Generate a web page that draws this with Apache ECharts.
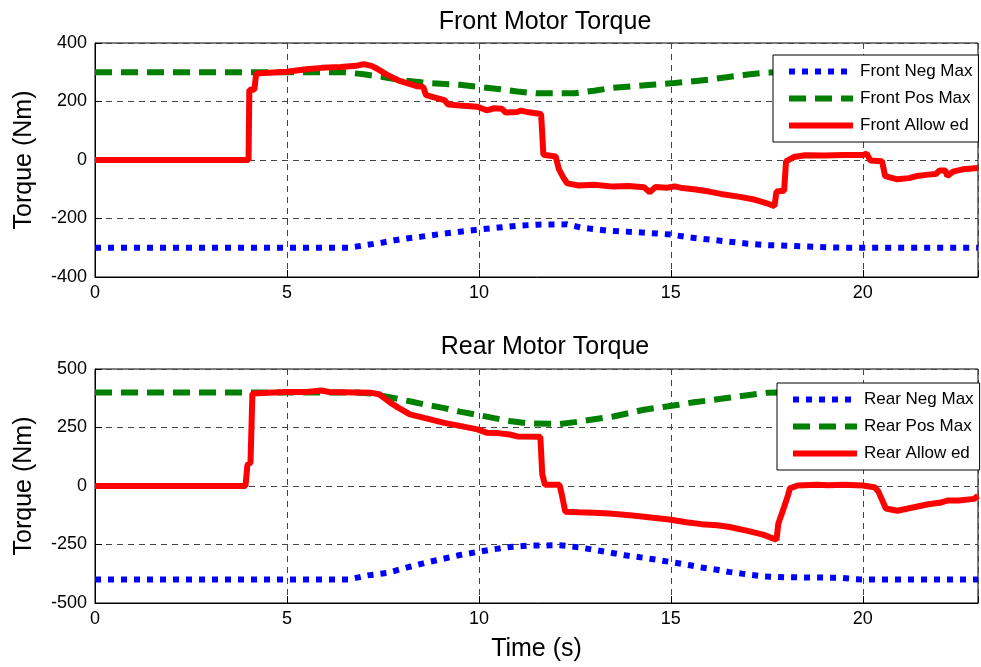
<!DOCTYPE html>
<html>
<head>
<meta charset="utf-8">
<script src="https://cdn.jsdelivr.net/npm/echarts@6/dist/echarts.min.js"></script>
<style>
  html, body { margin: 0; padding: 0; background: #fff; }
  #chart { width: 981px; height: 667px; }
</style>
</head>
<body>
<div id="chart"></div>
<script>
// Time ticks (s)
const timeTicks = [0, 5, 10, 15, 20];
const frontTicks = [-400, -200, 0, 200, 400];
const rearTicks = [-500, -250, 0, 250, 500];

// Front motor: negative torque limit
const frontNegT = [0, 6.6, 7.0, 7.5, 8.0, 8.5, 9.0, 9.5, 10.0, 10.5, 11.0, 11.5, 12.3, 12.7, 13.4, 14.0, 14.5, 15.0, 15.5, 16.0, 16.5, 17.0, 17.5, 18.2, 19.0, 19.5, 23];
const frontNegV = [-300, -300, -292, -282, -270, -262, -253, -245, -238, -231, -225, -221, -220, -232, -242, -246, -250, -255, -265, -272, -279, -286, -291, -294, -298, -300, -300];

// Front motor: positive torque limit
const frontPosT = [0, 6.5, 7.0, 7.5, 8.0, 8.7, 9.5, 10.0, 10.5, 11.0, 11.5, 12.5, 13.0, 13.5, 14.0, 14.5, 15.0, 15.5, 16.0, 16.5, 17.0, 17.5, 18.0, 23];
const frontPosV = [300, 300, 293, 284, 272, 263, 257, 250, 243, 234, 228, 228, 237, 247, 252, 257, 262, 268, 275, 284, 292, 299, 300, 300];

// Front motor: allowed torque
const frontAllowT = [0, 4.0, 4.02, 4.15, 4.2, 5.0, 5.5, 5.9, 6.4, 6.8, 7.0, 7.2, 7.35, 7.6, 7.9, 8.0, 8.4, 8.55, 8.62, 9.1, 9.2, 9.5, 9.96, 10.2, 10.4, 10.6, 10.7, 11.0, 11.1, 11.3, 11.62, 11.68, 12.0, 12.08, 12.2, 12.3, 12.6, 13.0, 13.5, 13.9, 14.3, 14.45, 14.6, 14.9, 15.1, 15.3, 15.6, 16.0, 16.3, 16.8, 17.2, 17.5, 17.7, 17.75, 17.95, 18.0, 18.2, 18.5, 19.0, 19.5, 20.0, 20.1, 20.2, 20.5, 20.58, 20.9, 21.2, 21.4, 21.7, 21.9, 22.0, 22.15, 22.2, 22.35, 22.6, 23];
const frontAllowV = [0, 0, 240, 240, 296, 302, 310, 315, 318, 322, 328, 322, 312, 292, 272, 268, 252, 250, 222, 205, 190, 186, 182, 170, 177, 175, 162, 164, 169, 163, 157, 18, 12, -30, -60, -80, -87, -85, -91, -89, -93, -110, -92, -95, -90, -96, -100, -108, -116, -126, -136, -148, -158, -108, -105, -5, 10, 16, 15, 17, 17, 22, -2, -4, -55, -66, -62, -55, -50, -48, -36, -36, -55, -40, -32, -27];

// Rear motor: negative torque limit
const rearNegT = [0, 6.6, 7.1, 7.6, 8.2, 8.6, 9.1, 9.5, 9.96, 10.4, 10.8, 11.3, 12.1, 12.6, 13.0, 13.4, 13.8, 14.3, 14.7, 15.1, 15.5, 15.8, 16.2, 16.5, 17.0, 17.4, 18.0, 19.4, 19.8, 20.0, 23];
const rearNegV = [-400, -400, -382, -372, -345, -328, -310, -295, -282, -270, -261, -255, -253, -262, -273, -284, -296, -307, -317, -328, -339, -348, -358, -367, -378, -386, -390, -392, -398, -400, -400];

// Rear motor: positive torque limit
const rearPosT = [0, 6.8, 7.2, 7.5, 8.2, 8.6, 9.1, 9.5, 9.96, 10.4, 10.8, 11.3, 12.1, 12.6, 13.0, 13.5, 14.0, 14.3, 14.8, 15.2, 15.6, 16.0, 16.5, 17.0, 17.5, 18.0, 23];
const rearPosV = [400, 400, 395, 385, 362, 348, 333, 318, 304, 290, 278, 267, 265, 275, 285, 297, 315, 326, 338, 347, 358, 366, 377, 388, 398, 400, 400];

// Rear motor: allowed torque
const rearAllowT = [0, 3.92, 3.97, 4.05, 4.1, 4.5, 5.0, 5.5, 5.9, 6.1, 6.8, 7.2, 7.4, 7.6, 7.7, 7.9, 8.2, 8.6, 9.1, 9.5, 9.96, 10.2, 10.5, 10.8, 11.0, 11.6, 11.65, 11.72, 12.1, 12.15, 12.25, 12.6, 13.0, 13.4, 14.0, 14.3, 14.96, 15.4, 15.8, 16.2, 16.5, 17.0, 17.4, 17.75, 17.8, 17.95, 18.05, 18.1, 18.3, 18.8, 19.1, 19.5, 20.0, 20.3, 20.4, 20.6, 20.9, 21.3, 21.7, 22.0, 22.2, 22.5, 22.9, 23];
const rearAllowV = [0, 0, 90, 100, 395, 398, 402, 402, 408, 402, 400, 398, 392, 368, 355, 335, 306, 290, 270, 257, 242, 228, 226, 220, 212, 210, 50, 5, 5, -30, -110, -112, -114, -118, -126, -131, -143, -155, -163, -168, -174, -192, -208, -230, -160, -90, -40, -10, 2, 5, 3, 5, 2, -5, -22, -96, -106, -92, -78, -72, -62, -62, -55, -42];

const FONT = 'Liberation Sans';
const zip = (t, v) => t.map((x, i) => [x, v[i]]);

const gridTop = { left: 95, right: -3, top: 43, height: 234 };
const gridBot = { left: 95, right: -3, top: 369, height: 234 };

function xAxis(gridIndex, withName) {
  return {
    type: 'value', gridIndex, min: 0, max: 23, interval: 5,
    name: withName ? 'Time (s)' : '',
    nameLocation: 'middle', nameGap: 34,
    nameTextStyle: { fontFamily: FONT, fontSize: 25, color: '#000' },
    axisLine: { onZero: false, lineStyle: { color: '#000', width: 1 } },
    axisTick: { inside: true, length: 7, lineStyle: { color: '#000' } },
    axisLabel: {
      fontFamily: FONT, fontSize: 18, color: '#000', margin: 7,
      formatter: v => timeTicks.includes(v) ? String(v) : ''
    },
    splitLine: { show: true, lineStyle: { color: '#444', type: [6, 5], width: 1 } }
  };
}

function yAxis(gridIndex, ticks) {
  return {
    type: 'value', gridIndex,
    min: ticks[0], max: ticks[ticks.length - 1], interval: ticks[1] - ticks[0],
    name: 'Torque (Nm)', nameLocation: 'middle', nameGap: 58,
    nameTextStyle: { fontFamily: FONT, fontSize: 25, color: '#000' },
    axisLine: { show: true, onZero: false, lineStyle: { color: '#000', width: 1 } },
    axisTick: { show: true, inside: true, length: 7, lineStyle: { color: '#000' } },
    axisLabel: { fontFamily: FONT, fontSize: 18, color: '#000', margin: 8 },
    splitLine: { show: true, lineStyle: { color: '#444', type: [6, 5], width: 1 } }
  };
}

function lineSeries(name, idx, data, color, width, dash) {
  return {
    name, type: 'line', xAxisIndex: idx, yAxisIndex: idx,
    data, symbol: 'none', animation: false,
    lineStyle: { color, width, type: dash, cap: 'butt' },
    itemStyle: { color }
  };
}

function legend(names, left, top) {
  return {
    data: names, orient: 'vertical', left, top,
    itemWidth: 64, itemHeight: 14, itemGap: 10,
    padding: [8, 6, 8, 13],
    backgroundColor: '#fff', borderColor: '#000', borderWidth: 1,
    itemStyle: { opacity: 0 },
    lineStyle: { width: 6 },
    textStyle: { fontFamily: FONT, fontSize: 17, color: '#000', padding: [0, 0, 0, 2] },
    selectedMode: false
  };
}

const chart = echarts.init(document.getElementById('chart'), null, { renderer: 'canvas' });
chart.setOption({
  animation: false,
  backgroundColor: '#fff',
  title: [
    { text: 'Front Motor Torque', left: 540, top: 5, textAlign: 'center',
      textStyle: { fontFamily: FONT, fontSize: 25, fontWeight: 'normal', color: '#000' } },
    { text: 'Rear Motor Torque', left: 540, top: 330, textAlign: 'center',
      textStyle: { fontFamily: FONT, fontSize: 25, fontWeight: 'normal', color: '#000' } }
  ],
  grid: [
    Object.assign({ show: true, borderColor: '#000', borderWidth: 1 }, gridTop),
    Object.assign({ show: true, borderColor: '#000', borderWidth: 1 }, gridBot)
  ],
  xAxis: [xAxis(0, false), xAxis(1, true)],
  yAxis: [yAxis(0, frontTicks), yAxis(1, rearTicks)],
  legend: [
    legend(['Front Neg Max', 'Front Pos Max', 'Front Allow ed'], 773, 55),
    legend(['Rear Neg Max', 'Rear Pos Max', 'Rear Allow ed'], 777, 383)
  ],
  series: [
    lineSeries('Front Neg Max', 0, zip(frontNegT, frontNegV), '#0000ff', 6, [6, 7]),
    lineSeries('Front Pos Max', 0, zip(frontPosT, frontPosV), '#008000', 6, [17, 9]),
    lineSeries('Front Allow ed', 0, zip(frontAllowT, frontAllowV), '#ff0000', 6, 'solid'),
    lineSeries('Rear Neg Max', 1, zip(rearNegT, rearNegV), '#0000ff', 6, [6, 7]),
    lineSeries('Rear Pos Max', 1, zip(rearPosT, rearPosV), '#008000', 6, [17, 9]),
    lineSeries('Rear Allow ed', 1, zip(rearAllowT, rearAllowV), '#ff0000', 6, 'solid')
  ]
});
</script>
</body>
</html>
